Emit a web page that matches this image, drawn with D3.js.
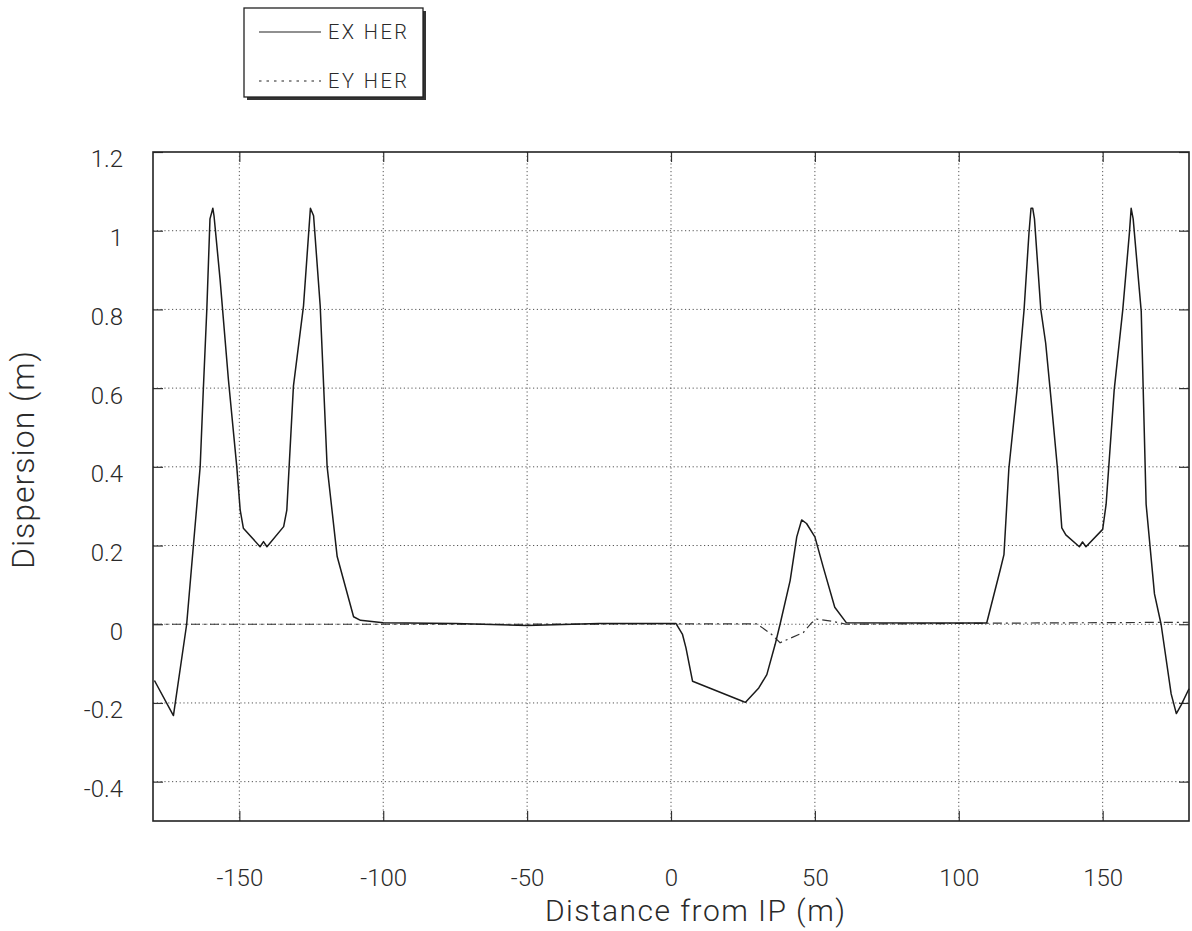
<!DOCTYPE html>
<html>
<head>
<meta charset="utf-8">
<script src="https://cdn.jsdelivr.net/npm/d3@7"></script>
<style>
  body { margin: 0; background: #fff; }
  text { font-family: Roboto, "Liberation Sans", sans-serif; font-weight: 300; fill: #2a2a2a; }
</style>
</head>
<body>
<script>
// EX HER (solid) - distance from IP (m) and dispersion (m)
var exDist = [-179.5, -172.9, -168.3, -166, -163.6, -162.5, -161.3, -160.2, -159.2, -158.8, -156.7,
  -153.8, -150.9, -149.7, -148.6, -142.8, -141.6, -140.4, -134.6, -133.5, -131.2, -127.7, -125.3,
  -124.2, -121.9, -119.5, -116, -110.3, -107.9, -100, -75, -50, -25, 1.7, 4, 5.2, 7.5, 25.3, 25.9,
  30.5, 33.3, 36.2, 37.9, 41.4, 43.7, 45.4, 47.1, 50, 52.9, 56.9, 60.9, 90, 109.7, 114.5, 115.7,
  117.4, 120.3, 122.7, 124.4, 125.1, 125.7, 126.3, 128.5, 130.2, 132, 134.3, 135.8, 137.2, 141.9,
  143, 144.2, 150, 151.2, 154, 157, 159.3, 159.9, 160.6, 163.4, 165.1, 168, 170.3, 173.8, 175.6,
  177.3, 180];
var exDisp = [-0.143, -0.232, 0, 0.197, 0.401, 0.599, 0.8, 1.03, 1.057, 1.038, 0.877,
  0.622, 0.401, 0.29, 0.244, 0.197, 0.21, 0.197, 0.248, 0.29, 0.605, 0.809, 1.057,
  1.038, 0.809, 0.401, 0.172, 0.019, 0.01, 0.004, 0.002, -0.003, 0.002, 0.002, -0.026, -0.06, -0.145, -0.197, -0.198,
  -0.162, -0.128, -0.051, 0, 0.111, 0.222, 0.265, 0.256, 0.222, 0.145, 0.043, 0.004, 0.003, 0.003, 0.141, 0.177,
  0.395, 0.6, 0.8, 0.995, 1.057, 1.057, 1.03, 0.8, 0.714, 0.577, 0.395, 0.245, 0.227, 0.197,
  0.209, 0.197, 0.241, 0.305, 0.595, 0.8, 0.995, 1.057, 1.03, 0.795, 0.305, 0.077, 0, -0.177, -0.227,
  -0.205, -0.164];

// EY HER (dash-dot)
var eyDist = [-180, -100, -50, 0, 29.9, 35, 37.9, 46, 48.9, 50.6, 56.3, 60.9, 120, 180];
var eyDisp = [0, 0, 0, 0.001, 0.001, -0.026, -0.047, -0.021, 0.004, 0.013, 0.007, 0, 0.003, 0.005];

var xTicks = [-150, -100, -50, 0, 50, 100, 150];
var yTicks = [-0.4, -0.2, 0, 0.2, 0.4, 0.6, 0.8, 1, 1.2];
var legendNames = ["EX HER", "EY HER"];

var W = 1192, H = 931;
var L = 153, T = 152, R = 1189, B = 821;

// plain hyphen for negative numbers, like the original plot
var fmt = d3.formatLocale({decimal: ".", thousands: ",", grouping: [3], currency: ["", ""], minus: "-"}).format("~g");

var svg = d3.select("body").append("svg")
  .attr("width", W)
  .attr("height", H);

var x = d3.scaleLinear().domain([-180, 180]).range([L, R]);
var y = d3.scaleLinear().domain([-0.5, 1.2]).range([B, T]);

// dotted grid
var grid = svg.append("g")
  .attr("stroke", "#555")
  .attr("stroke-width", 1)
  .attr("stroke-dasharray", "1.2,2.6");

grid.selectAll("line.v")
  .data(xTicks)
  .enter().append("line")
    .attr("class", "v")
    .attr("x1", function(d) { return x(d); })
    .attr("x2", function(d) { return x(d); })
    .attr("y1", T)
    .attr("y2", B);

grid.selectAll("line.h")
  .data(yTicks.filter(function(d) { return d < 1.2; }))
  .enter().append("line")
    .attr("class", "h")
    .attr("x1", L)
    .attr("x2", R)
    .attr("y1", function(d) { return y(d); })
    .attr("y2", function(d) { return y(d); });

// axes with short inward ticks
function styleAxis(g) {
  g.select(".domain").remove();
  g.selectAll(".tick line").attr("stroke", "#333").attr("stroke-width", 1.2);
  g.selectAll(".tick text")
    .style("font-family", "Roboto, 'Liberation Sans', sans-serif")
    .style("font-weight", 300)
    .style("font-size", "24px")
    .attr("fill", "#2a2a2a");
}

svg.append("g")
  .attr("transform", "translate(0," + B + ")")
  .call(d3.axisBottom(x).tickValues(xTicks).tickSize(-10).tickPadding(48).tickFormat(fmt))
  .call(styleAxis);

svg.append("g")
  .attr("transform", "translate(0," + T + ")")
  .call(d3.axisTop(x).tickValues(xTicks).tickSize(-10).tickFormat(""))
  .call(styleAxis);

svg.append("g")
  .attr("transform", "translate(" + L + ",0)")
  .call(d3.axisLeft(y).tickValues(yTicks).tickSize(-10).tickPadding(30).tickFormat(fmt))
  .call(styleAxis)
  .selectAll(".tick text")
    .attr("dy", "0.62em");

svg.append("g")
  .attr("transform", "translate(" + R + ",0)")
  .call(d3.axisRight(y).tickValues(yTicks).tickSize(-10).tickFormat(""))
  .call(styleAxis);

// frame
svg.append("rect")
  .attr("x", L)
  .attr("y", T)
  .attr("width", R - L)
  .attr("height", B - T)
  .attr("fill", "none")
  .attr("stroke", "#222")
  .attr("stroke-width", 1.6);

// curves
var line = d3.line()
  .x(function(d) { return x(d[0]); })
  .y(function(d) { return y(d[1]); });

svg.append("path")
  .datum(d3.zip(eyDist, eyDisp))
  .attr("d", line)
  .attr("fill", "none")
  .attr("stroke", "#333")
  .attr("stroke-width", 1.2)
  .attr("stroke-dasharray", "9,4,2,4");

svg.append("path")
  .datum(d3.zip(exDist, exDisp))
  .attr("d", line)
  .attr("fill", "none")
  .attr("stroke", "#1a1a1a")
  .attr("stroke-width", 1.5)
  .attr("stroke-linejoin", "round");

// axis titles
svg.append("text")
  .attr("x", 695)
  .attr("y", 921)
  .attr("text-anchor", "middle")
  .attr("textLength", 300)
  .style("font-size", "30px")
  .text("Distance from IP (m)");

svg.append("text")
  .attr("transform", "translate(34,460) rotate(-90)")
  .attr("text-anchor", "middle")
  .attr("textLength", 218)
  .style("font-size", "32px")
  .text("Dispersion (m)");

// legend
var leg = svg.append("g");
leg.append("rect")
  .attr("x", 247).attr("y", 11)
  .attr("width", 179).attr("height", 89)
  .attr("fill", "#333");
leg.append("rect")
  .attr("x", 244).attr("y", 8)
  .attr("width", 179).attr("height", 89)
  .attr("fill", "#fff")
  .attr("stroke", "#222")
  .attr("stroke-width", 1.3);

var legRows = leg.selectAll("g.row")
  .data(legendNames)
  .enter().append("g")
    .attr("class", "row")
    .attr("transform", function(d, i) { return "translate(0," + (32 + i * 49) + ")"; });

legRows.append("line")
  .attr("x1", 259).attr("x2", 321)
  .attr("stroke", "#222")
  .attr("stroke-width", 1.2)
  .attr("stroke-dasharray", function(d, i) { return i ? "2.5,5" : null; });

legRows.append("text")
  .attr("x", 328)
  .attr("y", 7)
  .style("font-size", "20px")
  .attr("textLength", 79)
  .text(function(d) { return d; });
</script>
</body>
</html>
